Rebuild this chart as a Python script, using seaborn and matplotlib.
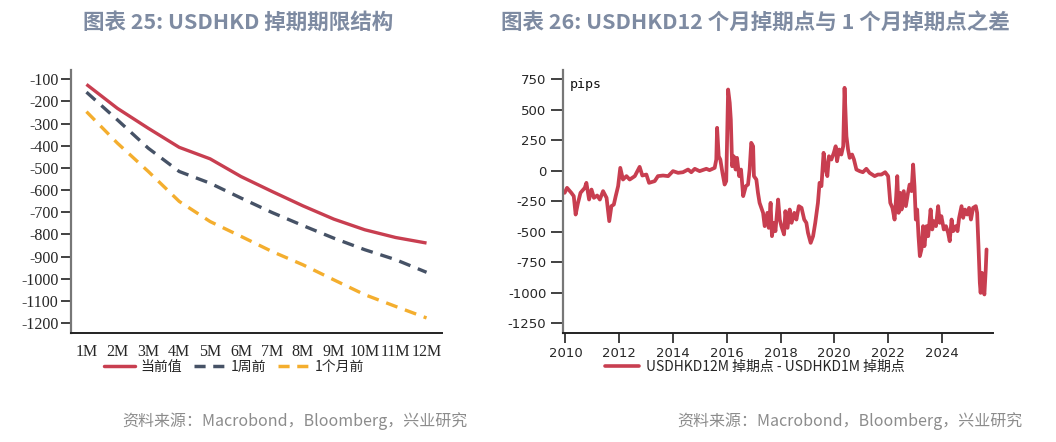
import matplotlib
matplotlib.use("Agg")
import matplotlib.pyplot as plt
from matplotlib.lines import Line2D
import seaborn as sns
import pandas as pd
import numpy as np

# ---------------- data ----------------
tenors = ["1M", "2M", "3M", "4M", "5M", "6M", "7M", "8M", "9M", "10M", "11M", "12M"]
current = [-123, -231, -321, -407, -459, -539, -606, -671, -731, -779, -814, -839]
week_ago = [-158, -283, -411, -516, -569, -636, -701, -760, -817, -869, -914, -971]
month_ago = [-246, -388, -516, -651, -742, -809, -877, -937, -1005, -1072, -1125, -1177]

ts_year = [2009.97, 2010.06, 2010.22, 2010.31, 2010.38, 2010.46, 2010.56, 2010.72, 2010.78, 2010.88,
           2010.97, 2011.06, 2011.18, 2011.28, 2011.40, 2011.53, 2011.63, 2011.71, 2011.80, 2011.87,
           2011.96, 2012.04, 2012.14, 2012.27, 2012.39, 2012.58, 2012.76, 2012.86, 2013.01, 2013.11,
           2013.32, 2013.44, 2013.63, 2013.82, 2014.00, 2014.19, 2014.37, 2014.56, 2014.68, 2014.81,
           2014.99, 2015.24, 2015.36, 2015.55, 2015.61, 2015.64, 2015.70, 2015.76, 2015.84, 2015.92,
           2015.98, 2016.05, 2016.11, 2016.15, 2016.20, 2016.26, 2016.33, 2016.38, 2016.46, 2016.53,
           2016.61, 2016.71, 2016.79, 2016.85, 2016.91, 2016.98, 2017.01, 2017.10, 2017.16,
           2017.22, 2017.35, 2017.41, 2017.51, 2017.56, 2017.63, 2017.68, 2017.75, 2017.81, 2017.91,
           2017.97, 2018.03, 2018.13, 2018.18, 2018.26, 2018.34, 2018.41, 2018.51, 2018.59, 2018.68,
           2018.78, 2018.88, 2018.96, 2019.02, 2019.12, 2019.21, 2019.29, 2019.39, 2019.45, 2019.52,
           2019.60, 2019.68, 2019.74, 2019.80, 2019.89, 2019.98, 2020.05, 2020.10, 2020.18, 2020.26,
           2020.33, 2020.38, 2020.45, 2020.51, 2020.57, 2020.66, 2020.73, 2020.82, 2020.94, 2021.06,
           2021.19, 2021.31, 2021.50, 2021.62, 2021.75, 2021.89,
           2022.00, 2022.08, 2022.16, 2022.24, 2022.30, 2022.34, 2022.39, 2022.45, 2022.50, 2022.58,
           2022.66, 2022.74, 2022.80, 2022.87, 2022.93, 2022.98, 2023.03, 2023.08, 2023.13, 2023.18,
           2023.24, 2023.30, 2023.35, 2023.43, 2023.49, 2023.58, 2023.64, 2023.70, 2023.78, 2023.86,
           2023.92, 2023.98, 2024.07, 2024.15, 2024.23, 2024.29, 2024.36, 2024.42, 2024.52, 2024.58,
           2024.64, 2024.73, 2024.79, 2024.86, 2024.94, 2025.01, 2025.08, 2025.16, 2025.26, 2025.31,
           2025.36, 2025.41, 2025.44, 2025.49, 2025.54, 2025.58, 2025.63, 2025.66]
ts_pips = [-183, -142, -183, -210, -361, -273, -183, -142, -101, -238,
           -156, -224, -205, -238, -169, -224, -415, -292, -279, -210,
           -128, 22, -74, -46, -74, -46, 30, -41, -33, -101,
           -87, -46, -41, -46, -5, -19, -14, 8, -14, 14,
           -5, 14, 3, 22, 90, 350, 117, 90, -19, -115,
           -87, 664, 555, 418, 35, 117, 8, 104, -46, 8,
           -210, -128, -115, 8, 227, 199, -46, -74, -183,
           -265, -347, -456, -347, -470, -265, -538, -429, -497, -238,
           -402, -456, -524, -333, -470, -320, -429, -347, -402, -292,
           -306, -402, -429, -511, -593, -538, -429, -265, -101, -128,
           145, 8, -46, 117, 90, 145, 199, 76, 172, 131,
           199, 678, 281, 172, 104, 131, 90, 8, -5, -14,
           14, -19, -46, -33, -33, -14,
           -46, -265, -306, -402, -210, -46, -347, -183, -320, -169,
           -292, -183, -115, -169, 49, -128, -402, -320, -538, -702,
           -647, -456, -620, -456, -538, -320, -483, -415, -456, -292,
           -429, -374, -483, -456, -511, -579, -402, -497, -456, -497,
           -388, -292, -388, -320, -361, -306, -402, -306, -292, -347,
           -620, -920, -1003, -839, -975, -1016, -811, -647]

left_yticks = [-100, -200, -300, -400, -500, -600, -700, -800, -900, -1000, -1100, -1200]
right_yticks = [750, 500, 250, 0, -250, -500, -750, -1000, -1250]
right_xticks = [2010, 2012, 2014, 2016, 2018, 2020, 2022, 2024]

title_left = "图表 25: USDHKD 掉期期限结构"
title_right = "图表 26: USDHKD12 个月掉期点与 1 个月掉期点之差"
source_text = "资料来源：Macrobond，Bloomberg，兴业研究"
legend_left = ["当前值", "1周前", "1个月前"]
legend_right = "USDHKD12M 掉期点 - USDHKD1M 掉期点"

RED = "#C83E50"
NAVY = "#465266"
ORANGE = "#F4AE2E"
TITLE_C = "#7E8BA2"

sns.set_theme(style="white")
CJK = ["Noto Sans CJK SC", "DejaVu Sans"]
plt.rcParams["font.family"] = CJK

fig = plt.figure(figsize=(10.56, 4.42), dpi=100)
W, H = 1056, 442
def axrect(x0, x1, y0, y1):
    return [x0 / W, 1 - y1 / H, (x1 - x0) / W, (y1 - y0) / H]

ax1 = fig.add_axes(axrect(71, 442, 70, 333))
ax2 = fig.add_axes(axrect(563, 993, 70, 333))

# ---------------- left chart ----------------
df_l = pd.DataFrame({
    "pos": list(range(len(tenors))) * 3,
    "value": current + week_ago + month_ago,
    "series": [legend_left[0]] * 12 + [legend_left[1]] * 12 + [legend_left[2]] * 12,
})
sns.lineplot(data=df_l, x="pos", y="value", hue="series", style="series",
             palette=[RED, NAVY, ORANGE], dashes=[(1, 0), (3.6, 2.4), (3.6, 2.4)],
             linewidth=2.4, ax=ax1, legend=False)
ax1.set_xlim(-0.5, 11.5)
ax1.set_ylim(-1245, -58)
ax1.set_xticks(range(12))
ax1.set_xticklabels(tenors, family=["Liberation Serif"], fontsize=11.5)
ax1.set_xticks(np.arange(12) - 0.5, minor=True)
ax1.tick_params(axis="x", which="major", length=0, pad=8)
ax1.tick_params(axis="x", which="minor", length=7, width=1.3, color="#333333", direction="out")
ax1.set_yticks(left_yticks)
ax1.set_yticklabels([f"-{abs(v)}" for v in left_yticks], family=["Liberation Serif"], fontsize=11.5)
ax1.tick_params(axis="y", length=7, width=1.3, color="#333333", direction="out", pad=2, left=True)
ax1.set_xlabel("")
ax1.set_ylabel("")
for s in ["top", "right"]:
    ax1.spines[s].set_visible(False)
ax1.spines["left"].set_color("#777777")
ax1.spines["left"].set_linewidth(1.6)
ax1.spines["bottom"].set_color("#222222")
ax1.spines["bottom"].set_linewidth(1.4)

h_l = [Line2D([], [], color=RED, lw=2.5),
       Line2D([], [], color=NAVY, lw=2.5, dashes=(3.2, 2.2)),
       Line2D([], [], color=ORANGE, lw=2.5, dashes=(3.2, 2.2))]
fig.legend(h_l, legend_left, loc="center", bbox_to_anchor=(234 / W, 1 - 367 / H), ncol=3,
           frameon=False, fontsize=10, handlelength=2.2, handletextpad=0.4, columnspacing=0.9)

# ---------------- right chart ----------------
df_r = pd.DataFrame({"year": ts_year, "pips": ts_pips})
sns.lineplot(data=df_r, x="year", y="pips", color=RED, linewidth=2.7, ax=ax2, legend=False)
ax2.set_xlim(2009.91, 2025.9)
ax2.set_ylim(-1332, 824)
ax2.set_xticks(right_xticks)
ax2.set_xticklabels([str(v) for v in right_xticks], family=["DejaVu Sans"], fontsize=9.5)
ax2.set_yticks(right_yticks)
ax2.set_yticklabels([str(v) for v in right_yticks], family=["DejaVu Sans"], fontsize=9.5)
ax2.tick_params(axis="x", length=7, width=1.3, color="#333333", direction="out", pad=3, bottom=True)
ax2.tick_params(axis="y", length=9, width=1.3, color="#333333", direction="out", pad=3, left=True)
ax2.set_xlabel("")
ax2.set_ylabel("")
for s in ["top", "right"]:
    ax2.spines[s].set_visible(False)
ax2.spines["left"].set_color("#777777")
ax2.spines["left"].set_linewidth(1.6)
ax2.spines["bottom"].set_color("#222222")
ax2.spines["bottom"].set_linewidth(1.4)
ax2.text(0.015, 0.97, "pips", transform=ax2.transAxes, ha="left", va="top",
         family=["DejaVu Sans Mono"], fontsize=9.5, color="#111111")

h_r = [Line2D([], [], color=RED, lw=2.6)]
fig.legend(h_r, [legend_right], loc="center", bbox_to_anchor=(755 / W, 1 - 367 / H),
           frameon=False, fontsize=10, handlelength=2.4, handletextpad=0.5)

# ---------------- titles & source ----------------
fig.text(238 / W, 1 - 22 / H, title_left, ha="center", va="center", fontsize=15.5,
         fontweight="bold", color=TITLE_C, family=CJK)
fig.text(755 / W, 1 - 22 / H, title_right, ha="center", va="center", fontsize=15.5,
         fontweight="bold", color=TITLE_C, family=CJK)
fig.text(295 / W, 1 - 421 / H, source_text, ha="center", va="center", fontsize=11.5,
         color="#8C8C8C", family=CJK)
fig.text(850 / W, 1 - 421 / H, source_text, ha="center", va="center", fontsize=11.5,
         color="#8C8C8C", family=CJK)

fig.savefig("out.png", dpi=100)
